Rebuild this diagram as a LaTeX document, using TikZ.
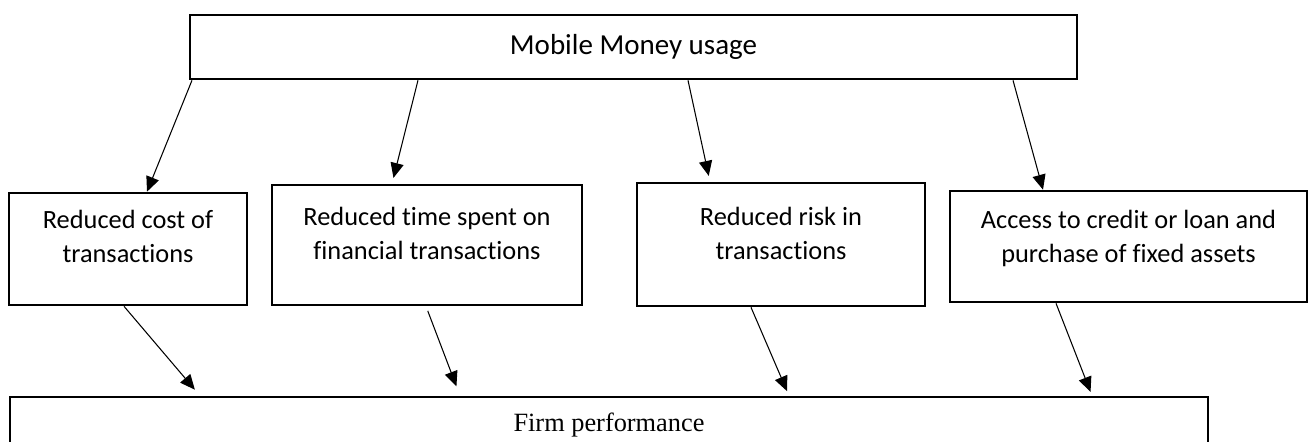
\documentclass[tikz,border=0pt]{standalone}
\usepackage{fontspec}
\setmainfont{Carlito}[Ligatures=CommonOff]
\newfontfamily\timesfont{Liberation Serif}
\usetikzlibrary{arrows.meta}

\begin{document}
\begin{tikzpicture}[
  x=0.02cm, y=-0.02cm,
  box/.style={draw,line width=1.5pt,inner sep=0pt,align=center,
              font=\fontsize{15}{19.5}\selectfont},
  link/.style={-{Triangle[length=8.5pt,width=7.5pt]},line width=0.6pt},
]
  \useasboundingbox (0,0) rectangle (1309,442);
  \clip (0,0) rectangle (1309,442);

  \node[box,minimum width=17.74cm,minimum height=1.28cm,font=\fontsize{16.5}{19.5}\selectfont] (usage) at (633.5,47) {Mobile Money usage};

  % effects, text sits in the upper part of each box
  \node[box,minimum width=4.76cm,text height=1.40cm,text depth=0.84cm] (cost)   at (128,249)    {Reduced cost of\\transactions};
  \node[box,minimum width=6.20cm,text height=1.50cm,text depth=0.90cm] (time)   at (427,245)    {Reduced time spent on\\financial transactions};
  \node[box,minimum width=5.76cm,text height=1.54cm,text depth=0.92cm] (risk)   at (781,244.5)  {Reduced risk in\\transactions};
  \node[box,minimum width=7.14cm,text height=1.44cm,text depth=0.78cm] (credit) at (1128.5,246.5) {Access to credit or loan and\\purchase of fixed assets};

  \node[box,minimum width=23.96cm,minimum height=1.12cm,font=\timesfont\fontsize{15}{19.5}\selectfont] (perf) at (609,425) {Firm performance};

  \draw[link] (usage.south -| 192,0) -- (cost.north -| 147,0);
  \draw[link,shorten >=3.4pt] (usage.south -| 418,0) -- (time.north -| 392,0);
  \draw[link,shorten >=3.4pt] (usage.south -| 688,0) -- (risk.north -| 710,0);
  \draw[link] (usage.south -| 1013,0) -- (credit.north -| 1043,0);

  \draw[link,shorten >=4.5pt] (cost.south -| 124,0) -- (perf.north -| 200,0);
  \draw[link,shorten <=2.8pt,shorten >=5.7pt] (time.south -| 426,0) -- (perf.north -| 460,0);
  \draw[link,shorten >=2.8pt] (risk.south -| 751,0) -- (perf.north -| 789,0);
  \draw[link,shorten >=2.3pt] (credit.south -| 1056,0) -- (perf.north -| 1092,0);
\end{tikzpicture}
\end{document}
